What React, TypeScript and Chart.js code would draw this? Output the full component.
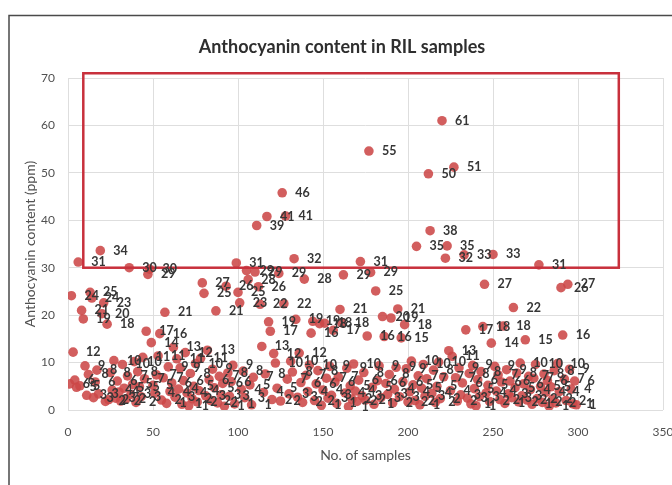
import React, { useEffect, useRef } from "react";
import { Chart, registerables } from "chart.js";

Chart.register(...registerables);

// Anthocyanin content (ppm) of each RIL sample, in sample order (sample 1, 2, 3, ...)
const anthocyaninPpm: number[] = [
  5.5, 24.1, 12.2, 6.3, 4.8, 31.2, 5.1, 21.0, 19.2, 9.3,
  3.1, 7.5, 24.8, 23.6, 2.6, 5.9, 8.4, 3.4, 33.6, 20.3,
  22.6, 1.8, 18.1, 2.2, 7.9, 4.2, 10.4, 2.5, 6.1, 3.8,
  1.9, 9.6, 4.6, 2.3, 7.2, 30.0, 3.3, 5.4, 10.2, 1.6,
  8.1, 4.9, 2.8, 11.1, 6.6, 16.6, 28.6, 29.7, 14.2, 5.2,
  3.5, 7.4, 11.4, 16.1, 2.1, 6.8, 20.6, 1.4, 9.1, 3.9,
  5.7, 13.2, 2.7, 10.8, 4.4, 8.9, 1.2, 6.2, 12.1, 3.6,
  0.9, 7.7, 2.4, 5.0, 9.8, 1.7, 4.1, 10.9, 26.8, 24.6,
  3.0, 12.6, 6.4, 2.0, 8.6, 4.7, 20.9, 1.5, 7.1, 3.2,
  5.6, 0.8, 26.1, 7.8, 2.9, 6.0, 9.4, 1.3, 31.0, 24.8,
  22.6, 4.3, 8.2, 2.6, 29.4, 27.5, 5.3, 1.1, 6.9, 29.1,
  38.9, 26.0, 22.3, 13.4, 3.7, 7.6, 40.8, 18.6, 16.6, 2.2,
  11.9, 9.9, 4.6, 28.8, 1.9, 45.8, 22.4, 40.9, 6.5, 3.4,
  10.3, 8.0, 31.9, 19.1, 2.7, 12.0, 5.8, 1.6, 27.6, 7.3,
  3.9, 9.5, 16.2, 18.7, 2.0, 5.5, 8.3, 18.2, 1.0, 4.2,
  18.3, 6.7, 2.5, 9.2, 3.1, 16.8, 5.9, 1.4, 7.0, 21.2,
  18.4, 28.5, 3.6, 8.8, 0.7, 5.1, 2.3, 9.7, 4.0, 1.8,
  6.3, 31.3, 3.0, 7.9, 2.1, 15.6, 54.6, 29.0, 4.8, 1.2,
  25.1, 6.2, 9.3, 2.6, 19.7, 15.5, 5.6, 3.3, 7.5, 19.4,
  1.5, 4.4, 9.0, 21.3, 2.8, 15.2, 6.0, 18.0, 8.7, 1.7,
  3.8, 10.3, 5.3, 2.0, 34.5, 7.2, 1.1, 4.6, 9.6, 2.9,
  6.6, 49.8, 37.8, 3.5, 8.4, 1.6, 5.0, 10.1, 2.4, 61.0,
  7.0, 32.0, 34.6, 12.5, 4.1, 11.3, 51.2, 6.8, 1.9, 8.9,
  3.2, 5.7, 32.7, 16.9, 2.5, 7.7, 1.3, 9.4, 4.5, 0.9,
  6.4, 2.8, 8.1, 17.6, 26.5, 3.6, 5.2, 1.8, 14.1, 32.8,
  9.2, 4.0, 7.4, 2.2, 5.9, 17.7, 1.4, 8.5, 3.4, 6.1,
  2.6, 21.6, 4.7, 7.8, 1.7, 9.9, 3.0, 5.5, 14.8, 2.1,
  7.1, 4.3, 1.2, 6.7, 9.6, 2.4, 30.6, 5.0, 1.6, 7.6,
  3.7, 6.2, 0.8, 4.9, 2.3, 8.3, 1.5, 9.8, 3.9, 25.8,
  15.8, 6.5, 2.0, 26.5, 8.6, 4.4, 1.3, 6.1, 1.1,
];

// Axis ranges and tick steps
const xRange = [0, 350];
const xStep = 50;
const yRange = [0, 70];
const yStep = 10;

// High-anthocyanin selection box: samples 9..324, content 30..71 ppm
const highBoxX = [9, 324];
const highBoxY = [30, 71];

const chartTitle = "Anthocyanin content in RIL samples";
const xTitle = "No. of samples";
const yTitle = "Anthocyanin content (ppm)";

const POINT_COLOR = "rgba(204, 72, 72, 0.88)";
const LABEL_COLOR = "#363636";
const AXIS_TEXT = "#505050";
const GRID_COLOR = "#dedede";

const framePlugin = {
  id: "outerFrame",
  beforeDraw(chart: any) {
    const { ctx } = chart;
    ctx.save();
    ctx.fillStyle = "#ffffff";
    ctx.fillRect(0, 0, chart.width, chart.height);
    ctx.strokeStyle = "#4a4a4a";
    ctx.lineWidth = 1.5;
    ctx.strokeRect(9, 15.5, chart.width + 20, chart.height + 20);
    ctx.fillStyle = "#2e2e2e";
    ctx.font = "bold 18px Lato";
    ctx.textAlign = "center";
    ctx.textBaseline = "middle";
    ctx.fillText(chartTitle, 342, 47);
    ctx.restore();
  },
};

const highBoxPlugin = {
  id: "highBox",
  afterDatasetsDraw(chart: any) {
    const { ctx } = chart;
    const xs = chart.scales.x;
    const ys = chart.scales.y;
    const x0 = xs.getPixelForValue(highBoxX[0]);
    const x1 = xs.getPixelForValue(highBoxX[1]);
    const y0 = ys.getPixelForValue(highBoxY[1]);
    const y1 = ys.getPixelForValue(highBoxY[0]);
    ctx.save();
    ctx.strokeStyle = "#c8303c";
    ctx.lineWidth = 2.5;
    ctx.strokeRect(x0, y0, x1 - x0, y1 - y0);
    ctx.restore();
  },
};

const valueLabelPlugin = {
  id: "valueLabels",
  afterDatasetsDraw(chart: any) {
    const { ctx } = chart;
    const meta = chart.getDatasetMeta(0);
    ctx.save();
    ctx.font = "bold 12.5px Lato";
    ctx.fillStyle = LABEL_COLOR;
    ctx.textAlign = "left";
    ctx.textBaseline = "middle";
    meta.data.forEach((el: any, i: number) => {
      ctx.fillText(String(Math.round(anthocyaninPpm[i])), el.x + 13, el.y);
    });
    ctx.restore();
  },
};

export default function App() {
  const canvasRef = useRef<HTMLCanvasElement | null>(null);

  useEffect(() => {
    if (!canvasRef.current) return;
    const points = anthocyaninPpm.map((v, i) => ({ x: i + 1, y: v }));
    const chart = new Chart(canvasRef.current, {
      type: "scatter",
      data: {
        datasets: [
          {
            data: points,
            backgroundColor: POINT_COLOR,
            borderColor: POINT_COLOR,
            borderWidth: 0,
            pointRadius: 4.8,
          },
        ],
      },
      options: {
        responsive: false,
        animation: false,
        events: [],
        layout: { padding: { left: 0, top: 78, right: 27, bottom: 0 } },
        plugins: {
          legend: { display: false },
          tooltip: { enabled: false },
          title: { display: false },
        },
        scales: {
          x: {
            type: "linear",
            min: xRange[0],
            max: xRange[1],
            ticks: {
              stepSize: xStep,
              padding: 15,
              color: AXIS_TEXT,
              font: { family: "Lato", size: 12 },
              maxRotation: 0,
            },
            grid: { color: GRID_COLOR, drawTicks: false },
            border: { display: false },
            title: {
              display: true,
              text: xTitle,
              color: AXIS_TEXT,
              font: { family: "Lato", size: 14 },
              padding: { top: 0, bottom: 21 },
            },
            afterFit(scale: any) {
              scale.height = 75;
            },
          },
          y: {
            type: "linear",
            min: yRange[0],
            max: yRange[1],
            ticks: {
              stepSize: yStep,
              padding: 13,
              color: AXIS_TEXT,
              font: { family: "Lato", size: 12 },
            },
            grid: { color: GRID_COLOR, drawTicks: false },
            border: { display: false },
            title: {
              display: true,
              text: yTitle,
              color: AXIS_TEXT,
              font: { family: "Lato", size: 14 },
              padding: { top: 22, bottom: 0 },
            },
            afterFit(scale: any) {
              scale.width = 68;
            },
          },
        },
      },
      plugins: [framePlugin, highBoxPlugin, valueLabelPlugin],
    });
    return () => chart.destroy();
  }, []);

  return (
    <div
      style={{
        position: "absolute",
        left: 0,
        top: 0,
        width: 672,
        height: 485,
        overflow: "hidden",
        background: "#fff",
      }}
    >
      <canvas ref={canvasRef} width={690} height={485} style={{ display: "block" }} />
    </div>
  );
}
